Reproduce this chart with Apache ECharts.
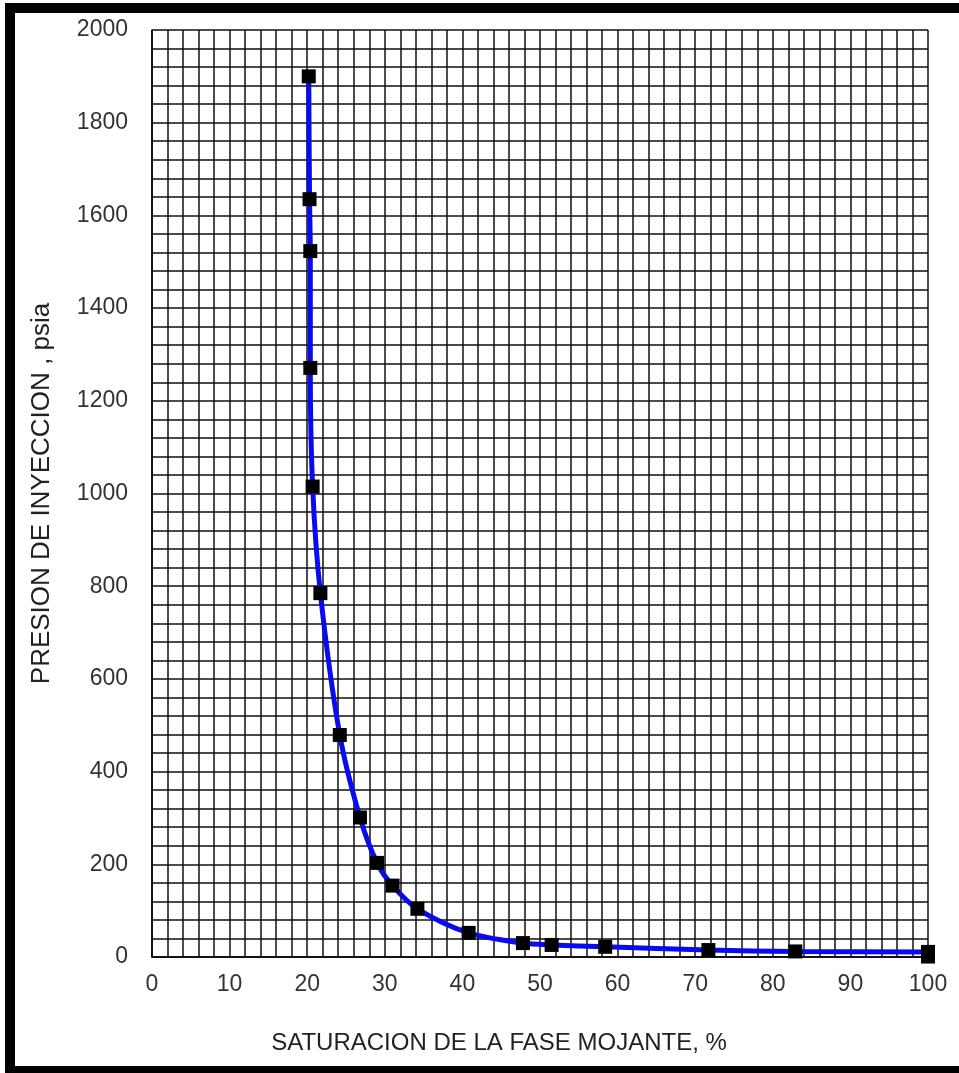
<!DOCTYPE html>
<html>
<head>
<meta charset="utf-8">
<script src="https://cdn.jsdelivr.net/npm/echarts@6/dist/echarts.min.js"></script>
<style>
html,body{margin:0;padding:0;background:#fff;}
#chart{width:959px;height:1073px;}
</style>
</head>
<body>
<div id="chart"></div>
<script>
// Saturation of wetting phase (%)
const saturation = [20.2, 20.3, 20.4, 20.4, 20.7, 21.7, 24.2, 26.8, 29.0, 31.0, 34.2, 40.8, 47.8, 51.5, 58.4, 71.7, 82.9, 100, 100];
// Injection pressure (psia)
const pressure   = [1900, 1635, 1523, 1271, 1015, 785, 479, 301, 203, 154, 104, 52, 30, 26, 22, 15, 12, 11, 1];
const xTicks = { min: 0, max: 100, step: 10 };
const yTicks = { min: 0, max: 2000, step: 200 };
const xTitle = 'SATURACION DE LA FASE MOJANTE, %';
const yTitle = 'PRESION DE INYECCION , psia';

const pts = saturation.map((s, i) => [s, pressure[i]]);
const linePts = pts.slice(0, pts.length - 1);

const chart = echarts.init(document.getElementById('chart'));
const labelFont = 'Liberation Sans, Arial, sans-serif';
chart.setOption({
  animation: false,
  backgroundColor: '#fff',
  grid: { left: 152, right: 31, top: 30, bottom: 116, containLabel: false },
  xAxis: {
    type: 'value', min: xTicks.min, max: xTicks.max, interval: xTicks.step,
    name: xTitle, nameLocation: 'middle', nameGap: 74,
    nameTextStyle: { color: '#222', fontSize: 24, fontFamily: labelFont, padding: [0, 82, 0, 0] },
    axisLine: { show: true, lineStyle: { color: '#000', width: 1.5 } },
    axisTick: { show: false },
    axisLabel: { color: '#333', fontSize: 23, fontFamily: labelFont, margin: 16, formatter: v => String(v) },
    splitLine: { show: true, lineStyle: { color: '#111', width: 1.5 } },
    minorTick: { show: false, splitNumber: 5 },
    minorSplitLine: { show: true, lineStyle: { color: '#111', width: 1.5 } }
  },
  yAxis: {
    type: 'value', min: yTicks.min, max: yTicks.max, interval: yTicks.step,
    name: yTitle, nameLocation: 'middle', nameGap: 97, nameRotate: 90,
    nameTextStyle: { color: '#222', fontSize: 26, fontFamily: labelFont },
    axisLine: { show: true, lineStyle: { color: '#000', width: 1.5 } },
    axisTick: { show: false },
    axisLabel: { color: '#333', fontSize: 23, fontFamily: labelFont, margin: 24, formatter: v => String(v) },
    splitLine: { show: true, lineStyle: { color: '#111', width: 1.5 } },
    minorTick: { show: false, splitNumber: 5 },
    minorSplitLine: { show: true, lineStyle: { color: '#111', width: 1.5 } }
  },
  series: [
    {
      type: 'line', data: linePts, smooth: 0.3, symbol: 'none',
      lineStyle: { color: '#0a0af0', width: 5 }, clip: false, z: 3
    },
    {
      type: 'scatter', data: pts, symbol: 'rect', symbolSize: 14,
      itemStyle: { color: '#000', opacity: 1 }, clip: false, z: 4
    }
  ],
  graphic: [
    { type: 'rect', left: 5, top: 3, shape: { width: 954, height: 10 }, style: { fill: '#000' } },
    { type: 'rect', left: 5, top: 3, shape: { width: 10, height: 1070 }, style: { fill: '#000' } },
    { type: 'rect', left: 5, top: 1066, shape: { width: 954, height: 7 }, style: { fill: '#000' } }
  ]
});
</script>
</body>
</html>
